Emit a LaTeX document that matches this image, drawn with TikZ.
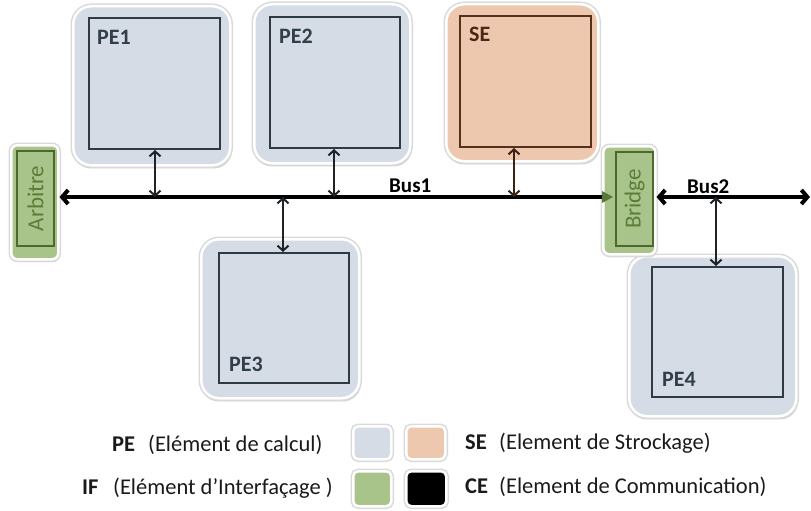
\documentclass[tikz,border=0pt]{standalone}
\usepackage{fontspec}
\setmainfont{Carlito}
\usetikzlibrary{arrows.meta,shadows}
\definecolor{peblue}{HTML}{D5DCE6}
\definecolor{peedge}{HTML}{2E3A46}
\definecolor{petext}{HTML}{323E4A}
\definecolor{sefill}{HTML}{EEC8AE}
\definecolor{seedge}{HTML}{55301C}
\definecolor{setext}{HTML}{4A2816}
\definecolor{iffill}{HTML}{A9C48B}
\definecolor{ifedge}{HTML}{4B6A2A}
\definecolor{iftext}{HTML}{5C7D38}
\definecolor{conncol}{HTML}{1E2328}
\definecolor{legcol}{HTML}{1A1A1A}
\begin{document}
\begin{tikzpicture}[x=1pt,y=-1pt,
  outerbox/.style={draw=white, line width=2.5pt, rounded corners=18pt, anchor=north west, inner sep=0pt,
    drop shadow={shadow xshift=0.6pt, shadow yshift=-2pt, shadow scale=1.015, fill=black!45, opacity=0.4},
    preaction={draw=black!15, line width=5.5pt}},
  smallbox/.style={outerbox, rounded corners=6pt},
  innerbox/.style={draw, line width=2pt, anchor=north west, inner sep=0pt},
  boxlabel/.style={font=\fontsize{22}{26}\selectfont\bfseries, text=petext, anchor=base west, inner sep=0pt},
  iflabel/.style={font=\fontsize{23}{27}\selectfont, text=iftext, rotate=90, inner sep=0pt},
  buslabel/.style={font=\fontsize{21}{25}\selectfont\bfseries, text=black, anchor=base west, inner sep=0pt},
  bus/.style={draw=black, line width=4pt},
  conn/.style={draw=conncol, line width=2pt, <->, >={Straight Barb[length=5pt,width=11pt]}},
  legb/.style={font=\fontsize{22.5}{27}\selectfont\bfseries, text=legcol, anchor=base west, inner sep=0pt},
  legt/.style={font=\fontsize{22.5}{27}\selectfont, text=legcol, anchor=base west, inner sep=0pt},
  swatch/.style={outerbox, rounded corners=5pt}
]
\useasboundingbox (0,0) rectangle (811,511);

% PE1
\node[outerbox, fill=peblue, minimum width=157pt, minimum height=159pt] (pe1out) at (72,5) {};
\node[innerbox, draw=peedge, minimum width=131pt, minimum height=131pt] (pe1) at (88,17) {};
\node[boxlabel] (pe1lab) at (97,45) {PE1};
% PE2
\node[outerbox, fill=peblue, minimum width=156pt, minimum height=159pt] (pe2out) at (253,3) {};
\node[innerbox, draw=peedge, minimum width=130pt, minimum height=131pt] (pe2) at (269,16) {};
\node[boxlabel] (pe2lab) at (279,44) {PE2};
% SE
\node[outerbox, fill=sefill, minimum width=152pt, minimum height=157pt] (seout) at (445,3) {};
\node[innerbox, draw=seedge, minimum width=131pt, minimum height=131pt] (se) at (459,15) {};
\node[boxlabel, text=setext] (selab) at (469,42) {SE};
% PE3
\node[outerbox, fill=peblue, minimum width=158pt, minimum height=159pt] (pe3out) at (200,238) {};
\node[innerbox, draw=peedge, minimum width=130pt, minimum height=130pt] (pe3) at (218,252) {};
\node[boxlabel] (pe3lab) at (229,371) {PE3};
% PE4
\node[outerbox, fill=peblue, minimum width=167pt, minimum height=160pt] (pe4out) at (628,255) {};
\node[innerbox, draw=peedge, minimum width=131pt, minimum height=130pt] (pe4) at (651,266) {};
\node[boxlabel] (pe4lab) at (662,386) {PE4};
% Arbitre
\node[smallbox, fill=iffill, minimum width=47pt, minimum height=114pt] (arbout) at (10,144) {};
\node[innerbox, draw=ifedge, minimum width=37pt, minimum height=95pt] (arb) at (16,150) {};
\node[iflabel] (arbtxt) at (arb.center) {Arbitre};
% Bridge
\node[smallbox, fill=iffill, minimum width=52pt, minimum height=108pt] (brout) at (602,145) {};
\node[innerbox, draw=ifedge, minimum width=37pt, minimum height=94pt] (br) at (615,151) {};
\node[iflabel] (brtxt) at (br.center) {Bridge};

% bus junctions
\coordinate (j1) at (155,197);
\coordinate (j2) at (334,197);
\coordinate (j3) at (514,197);
\coordinate (j4) at (283,197);
\coordinate (j5) at (716,197);
\coordinate (busend) at (810,197);

% Bus1
\draw[bus, {Straight Barb[length=6pt,width=14pt]}-{Triangle[length=11pt,width=12pt,line width=0pt,color=ifedge!85!iffill]}]
  (arbout.east |- j1) -- ([xshift=11pt]brout.west |- j1);
\node[buslabel] (bus1lab) at (389,192) {Bus1};
% Bus2
\draw[bus, {Straight Barb[length=6pt,width=14pt]}-{Straight Barb[length=6pt,width=14pt]}]
  (brout.east |- j1) -- (busend);
\node[buslabel] (bus2lab) at (687,193) {Bus2};

% connectors
\draw[conn] (pe1.south -| j1) -- (j1);
\draw[conn] (pe2.south -| j2) -- (j2);
\draw[conn, draw=seedge!70!black] (se.south -| j3) -- (j3);
\draw[conn] (j4) -- (pe3.north -| j4);
\draw[conn] (j5) -- (pe4.north -| j5);

% legend
\node[legb] (lpe) at (112,451) {PE};
\node[legt] (lpet) at (148,451) {(Elément de calcul)};
\node[legb] (lif) at (82,494) {IF};
\node[legt] (lift) at (113,494) {(Elément d’Interfaçage )};
\node[swatch, fill=peblue, minimum width=38pt, minimum height=33pt] (swpe) at (352,425) {};
\node[swatch, fill=sefill, minimum width=39pt, minimum height=33pt] (swse) at (405,425) {};
\node[swatch, fill=iffill, minimum width=38pt, minimum height=35pt] (swif) at (352,470) {};
\node[swatch, fill=black, minimum width=40pt, minimum height=35pt] (swce) at (405,470) {};
\node[legb] (lse) at (465,449) {SE};
\node[legt] (lset) at (499,449) {(Element de Strockage)};
\node[legb] (lce) at (465,493) {CE};
\node[legt] (lcet) at (499,493) {(Element de Communication)};
\end{tikzpicture}
\end{document}
